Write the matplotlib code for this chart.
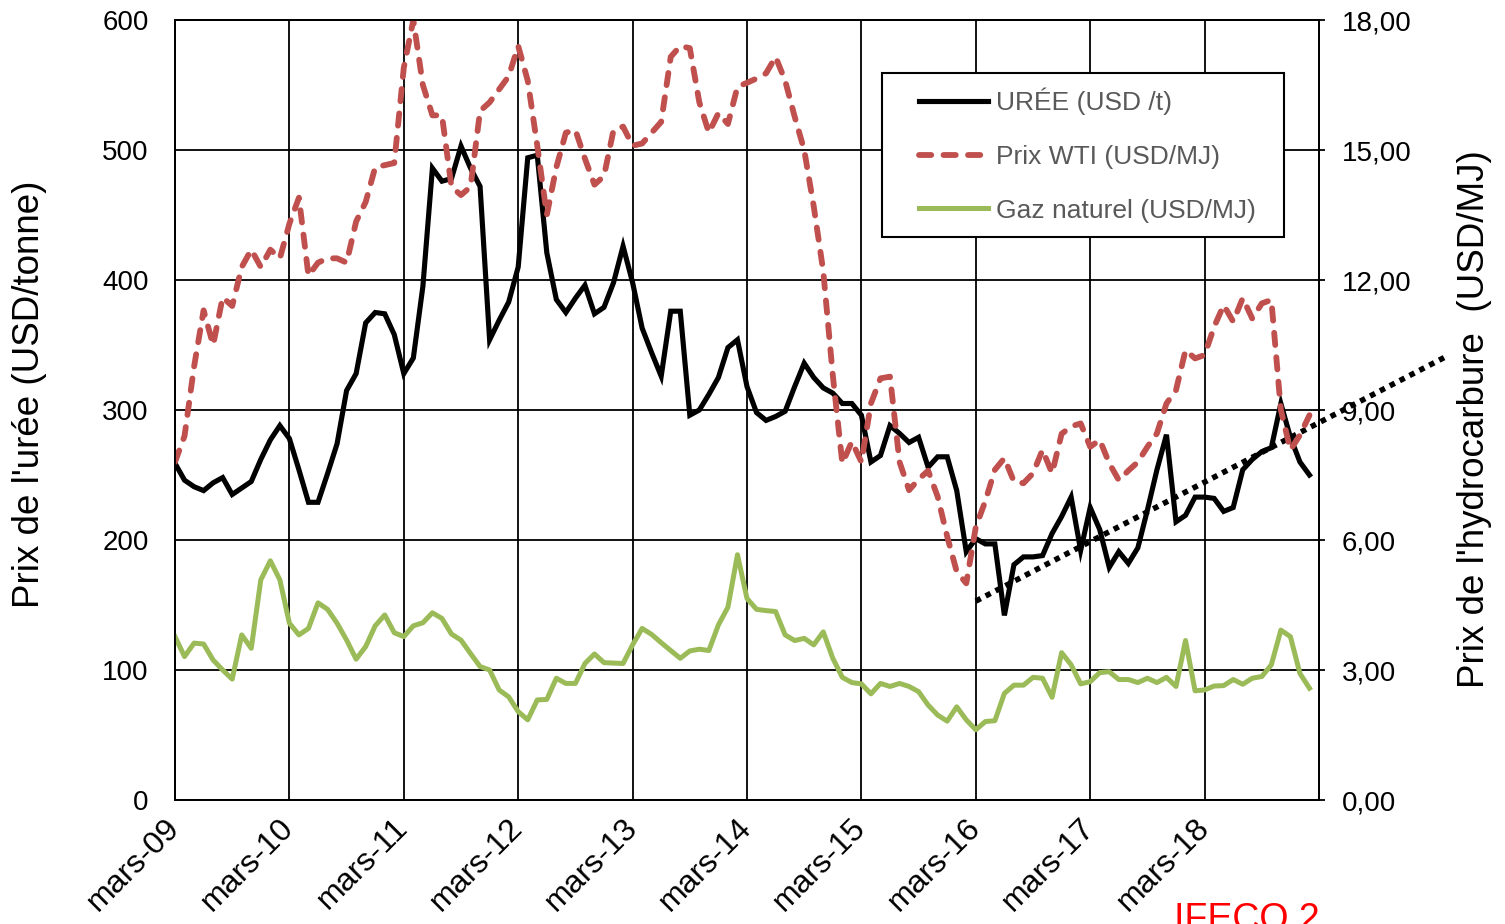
import numpy as np
import matplotlib
matplotlib.use('Agg')
import matplotlib.pyplot as plt
from matplotlib.ticker import FuncFormatter
from matplotlib.legend_handler import HandlerLine2D

plt.rcParams['font.family'] = ['Liberation Sans', 'DejaVu Sans']

# monthly series, mars-09 -> fev-19
uree = [259, 246, 241, 238, 244, 248, 235, 240, 245, 262, 277, 288, 278, 254, 229, 229, 251, 274, 315, 328,
        367, 375, 374, 358, 328, 340, 395, 486, 476, 478, 503, 486, 472, 354, 369, 383, 410, 494, 496, 421,
        385, 375, 386, 396, 374, 379, 398, 426, 398, 363, 344, 326, 376, 376, 296, 300, 312, 325, 348, 354,
        318, 298, 292, 295, 299, 318, 336, 325, 317, 313, 305, 305, 296, 260, 265, 288, 282, 275, 279, 256,
        264, 264, 238, 191, 201, 197, 197, 142, 181, 187, 187, 188, 205, 218, 233, 192, 225, 208, 179, 191,
        182, 194, 223, 254, 281, 214, 219, 233, 233, 232, 222, 225, 254, 262, 268, 271, 305, 279, 260, 250]

wti = [7.8, 8.4, 10.0, 11.3, 10.5, 11.6, 11.4, 12.3, 12.7, 12.3, 12.7, 12.5, 13.3, 13.9, 12.1, 12.4, 12.5, 12.5, 12.4, 13.35,
       13.8, 14.6, 14.65, 14.7, 16.9, 18.0, 16.5, 15.8, 15.8, 14.15, 13.96, 14.15, 15.9, 16.1, 16.4, 16.7, 17.4, 16.6, 15.1, 13.5,
       14.6, 15.4, 15.46, 14.8, 14.2, 14.4, 15.46, 15.54, 15.1, 15.15, 15.4, 15.65, 17.15, 17.4, 17.35, 16.1, 15.4, 15.85, 15.6, 16.46,
       16.55, 16.65, 16.77, 17.15, 16.6, 15.77, 15.0, 13.7, 12.2, 9.8, 7.77, 8.27, 7.8, 9.15, 9.73, 9.77, 7.8, 7.15, 7.4, 7.6,
       7.0, 6.08, 5.27, 5.0, 6.3, 6.9, 7.62, 7.89, 7.35, 7.31, 7.54, 8.08, 7.54, 8.45, 8.62, 8.69, 8.15, 8.31, 7.77, 7.38,
       7.6, 7.8, 8.15, 8.46, 9.15, 9.46, 10.38, 10.19, 10.27, 10.92, 11.42, 11.04, 11.58, 11.11, 11.46, 11.54, 9.0, 8.08, 8.42, 8.88]

gaz = [3.77, 3.31, 3.62, 3.6, 3.23, 3.0, 2.79, 3.81, 3.5, 5.08, 5.52, 5.08, 4.08, 3.81, 3.96, 4.55, 4.4, 4.08, 3.69, 3.25,
       3.54, 4.02, 4.27, 3.86, 3.77, 4.02, 4.09, 4.32, 4.19, 3.83, 3.69, 3.38, 3.08, 3.0, 2.54, 2.38, 2.04, 1.85, 2.31, 2.32,
       2.81, 2.69, 2.69, 3.15, 3.37, 3.17, 3.16, 3.15, 3.58, 3.96, 3.82, 3.63, 3.45, 3.27, 3.44, 3.48, 3.45, 4.04, 4.45, 5.66,
       4.65, 4.4, 4.37, 4.35, 3.81, 3.68, 3.73, 3.58, 3.88, 3.27, 2.83, 2.71, 2.68, 2.45, 2.69, 2.62, 2.69, 2.62, 2.5, 2.19,
       1.96, 1.82, 2.15, 1.85, 1.62, 1.81, 1.83, 2.46, 2.65, 2.65, 2.83, 2.81, 2.37, 3.4, 3.12, 2.68, 2.73, 2.94, 2.96, 2.78,
       2.78, 2.71, 2.81, 2.71, 2.83, 2.62, 3.68, 2.52, 2.54, 2.63, 2.64, 2.78, 2.67, 2.81, 2.85, 3.12, 3.92, 3.77, 2.92, 2.58]

# tendance uree (debut mars-16, prolongee)
trend_x = [84, 133.3]
trend_y = [153, 341]

tick_labels = ['mars-09', 'mars-10', 'mars-11', 'mars-12', 'mars-13', 'mars-14',
               'mars-15', 'mars-16', 'mars-17', 'mars-18', '']


class ShiftedLine(HandlerLine2D):
    # handle drawn only on the right part of its box (like Excel)
    def create_artists(self, legend, orig_handle, xdescent, ydescent, width, height, fontsize, trans):
        shift = 0.24 * width
        return super().create_artists(legend, orig_handle, xdescent - shift, ydescent,
                                      width - shift, height, fontsize, trans)


x = np.arange(len(uree))

fig = plt.figure(figsize=(15.05, 9.24), dpi=100)
fig.subplots_adjust(left=175/1505, right=1319/1505, top=1-20/924, bottom=1-800/924)
ax = fig.add_subplot(111)
ax2 = ax.twinx()

l1, = ax.plot(x, uree, color='black', lw=3.7, solid_joinstyle='miter', label='URÉE (USD /t)', zorder=3)
ax.plot(trend_x, trend_y, color='black', lw=4.0, linestyle=(0, (1, 1)), clip_on=False, zorder=4)

l2, = ax2.plot(x, wti, color='#C0504D', lw=4.2, dashes=(2.1, 2.1), dash_capstyle='round',
               label='Prix WTI (USD/MJ)')
l3, = ax2.plot(x, gaz, color='#9BBB59', lw=3.6, label='Gaz naturel (USD/MJ)')

ax.set_xlim(0, 120)
ax.set_ylim(0, 600)
ax2.set_ylim(0, 18)
ax.set_yticks(range(0, 601, 100))
ax2.set_yticks(range(0, 19, 3))
ax2.yaxis.set_major_formatter(FuncFormatter(lambda v, p: f'{v:.2f}'.replace('.', ',')))

ax.set_xticks(range(0, 121, 12))
ax.set_xticklabels(tick_labels, rotation=45, ha='right', va='center', rotation_mode='anchor')
ax.tick_params(axis='x', length=0, pad=17, labelsize=23)
ax.tick_params(axis='y', length=0, pad=19, labelsize=20)
ax2.tick_params(axis='y', length=4.5, width=1.3, direction='out', pad=12, labelsize=20)

ax.grid(True, color='black', lw=1.3)
ax.set_axisbelow(True)
for s in ['left', 'bottom', 'top', 'right']:
    ax.spines[s].set_linewidth(1.3)
    ax2.spines[s].set_linewidth(1.3)

ax.set_ylabel("Prix de l'urée (USD/tonne)", fontsize=26.5)
ax.yaxis.set_label_coords(-0.127, 0.52)
ax.yaxis.label.set(ha='center', va='center')
ax2.set_ylabel("Prix de l'hydrocarbure  (USD/MJ)", fontsize=26.5)
ax2.yaxis.set_label_coords(1.136, 0.488)
ax2.yaxis.label.set(ha='center', va='center')

leg = ax2.legend(handles=[l1, l2, l3], loc='upper left',
                 bbox_to_anchor=(882/1505, 1-235/924, (1284-882)/1505, (235-73)/924),
                 bbox_transform=fig.transFigure, mode='expand', borderaxespad=0, fontsize=19,
                 frameon=True, fancybox=False, edgecolor='black', framealpha=1, handlelength=3.48,
                 handletextpad=0.3, labelspacing=1.13, borderpad=0.55,
                 handler_map={l1: ShiftedLine(), l2: ShiftedLine(), l3: ShiftedLine()})
leg.get_frame().set_linewidth(1.5)
for t in leg.get_texts():
    t.set_color('#595959')

fig.text(1247/1505, -0.006, 'IFECO 2', color='red', fontsize=27, ha='center', va='baseline')

fig.savefig('out.png', dpi=100)
